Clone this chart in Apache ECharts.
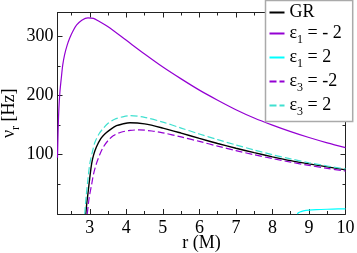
<!DOCTYPE html>
<html>
<head>
<meta charset="utf-8">
<script src="https://cdn.jsdelivr.net/npm/echarts@6/dist/echarts.min.js"></script>
<style>html,body{margin:0;padding:0;background:#fff;}#c{width:357px;height:253px;}</style>
</head>
<body>
<div id="c"></div>
<script>
// ---- data ----
const xTicks = [3, 4, 5, 6, 7, 8, 9, 10];
const xMinor = [2.5, 3.5, 4.5, 5.5, 6.5, 7.5, 8.5, 9.5];
const yTicks = [100, 200, 300];
const yMinor = [50, 150, 250];

const rGR = [2.89, 2.92, 2.95, 3.0, 3.05, 3.1, 3.18, 3.3, 3.41, 3.55, 3.73, 3.9, 4.1, 4.5, 5.0, 5.5, 6.0, 6.5, 7.0, 7.5, 8.0, 8.5, 9.0, 9.5, 10];
const vGR = [0, 20, 35, 62, 85, 99, 113, 127, 135, 142, 149, 152, 154, 152, 145, 136.5, 127.5, 119, 111, 103.5, 96.5, 90, 84.5, 79.5, 74.5];

const rE1m = [2.115, 2.13, 2.15, 2.18, 2.22, 2.26, 2.31, 2.38, 2.45, 2.55, 2.64, 2.78, 2.95, 3.1, 3.23, 3.5, 4.0, 4.5, 5.0, 5.5, 6.0, 6.5, 7.0, 7.5, 8.0, 8.5, 9.0, 9.5, 10];
const vE1m = [95, 135, 174, 205, 230, 252, 269, 285, 297, 310, 319, 327, 331, 330, 326, 316, 293, 270, 248, 228, 209, 192, 176, 162, 150, 139, 129, 120, 112];

const rE1p = [8.68, 8.72, 8.78, 8.85, 9.0, 9.2, 9.5, 9.8, 10];
const vE1p = [0, 2.5, 4, 5.3, 6.5, 7.3, 8, 8.5, 8.8];

const rE3m = [2.93, 2.97, 3.0, 3.05, 3.1, 3.18, 3.27, 3.36, 3.5, 3.64, 3.85, 4.1, 4.35, 4.7, 5.0, 5.5, 6.0, 6.5, 7.0, 7.5, 8.0, 8.5, 9.0, 9.5, 10];
const vE3m = [0, 22, 34, 50, 67, 85, 100, 112, 124, 132, 138, 141, 142, 140, 137, 130, 122.5, 114.5, 107, 100, 93.5, 87.5, 82, 77, 72.5];

const rE3p = [2.86, 2.9, 2.95, 3.0, 3.07, 3.14, 3.25, 3.36, 3.5, 3.68, 3.9, 4.1, 4.5, 5.0, 5.5, 6.0, 6.5, 7.0, 7.5, 8.0, 8.5, 9.0, 9.5, 10];
const vE3p = [0, 30, 60, 85, 105, 121, 135, 144, 153, 160, 164, 166, 163, 155, 145, 135, 125.5, 116.5, 108, 100, 93, 86.5, 81, 76];

const names = ['GR', 'ε1 = - 2', 'ε1 = 2', 'ε3 = -2', 'ε3 = 2'];
const legendRich = {
  'GR': '{t|GR}',
  'ε1 = - 2': '{t|ε}{s|1}{t| = - 2}',
  'ε1 = 2': '{t|ε}{s|1}{t| = 2}',
  'ε3 = -2': '{t|ε}{s|3}{t| = -2}',
  'ε3 = 2': '{t|ε}{s|3}{t| = 2}'
};

const FONT = 'Liberation Serif';
const pairs = (r, v) => r.map((x, i) => [x, v[i]]);
const XMIN = 2.115, XMAX = 10, YMIN = 0, YMAX = 340;

function xAx(pos, vals, len, showLine, labels) {
  return {
    type: 'value', position: pos, min: XMIN, max: XMAX,
    axisLine: { show: showLine, onZero: false, lineStyle: { color: '#222', width: 1 } },
    axisTick: { show: true, inside: true, length: len, customValues: vals, lineStyle: { color: '#222', width: 1 } },
    axisLabel: labels ? { show: true, customValues: vals, margin: 5, color: '#000', fontFamily: FONT, fontSize: 18 } : { show: false },
    splitLine: { show: false }
  };
}
function yAx(pos, vals, len, showLine, labels) {
  return {
    type: 'value', position: pos, min: YMIN, max: YMAX,
    axisLine: { show: showLine, onZero: false, lineStyle: { color: '#222', width: 1 } },
    axisTick: { show: true, inside: true, length: len, customValues: vals, lineStyle: { color: '#222', width: 1 } },
    axisLabel: labels ? { show: true, customValues: vals, margin: 4, color: '#000', fontFamily: FONT, fontSize: 18 } : { show: false },
    splitLine: { show: false }
  };
}

const xAxes = [
  xAx('bottom', xTicks, 5, true, true),
  xAx('bottom', xMinor, 3, false, false),
  xAx('top', xTicks, 5, true, false),
  xAx('top', xMinor, 3, false, false)
];
Object.assign(xAxes[0], {
  name: 'r (M)', nameLocation: 'middle', nameGap: 20, nameMoveOverlap: false,
  nameTextStyle: { fontFamily: FONT, fontSize: 18, color: '#000' }
});
const yAxes = [
  yAx('left', yTicks, 5, true, true),
  yAx('left', yMinor, 3, false, false),
  yAx('right', yTicks, 5, true, false),
  yAx('right', yMinor, 3, false, false)
];
Object.assign(yAxes[0], {
  name: '{n|ν}{s|r}{n| [Hz]}', nameLocation: 'middle', nameGap: 36, nameRotate: 90, nameMoveOverlap: false,
  nameTextStyle: {
    fontFamily: FONT, fontSize: 18, color: '#000',
    rich: {
      n: { fontFamily: FONT, fontSize: 18, color: '#000' },
      s: { fontFamily: FONT, fontSize: 12, color: '#000', padding: [12, 0, 0, 0] }
    }
  }
});

const colors = ['#000000', '#9400d3', '#00ffff', '#9400d3', '#40e0d0'];
const dataSets = [pairs(rGR, vGR), pairs(rE1m, vE1m), pairs(rE1p, vE1p), pairs(rE3m, vE3m), pairs(rE3p, vE3p)];
const dashed = [false, false, false, true, true];

const series = names.map((n, i) => ({
  name: n, type: 'line', data: dataSets[i], xAxisIndex: 0, yAxisIndex: 0,
  showSymbol: false, symbol: 'none', smooth: 0.3,
  lineStyle: { color: colors[i], width: i === 0 ? 1.4 : 1.2, type: dashed[i] ? [7, 3] : 'solid' },
  itemStyle: { color: colors[i] },
  animation: false, clip: true
}));

const chart = echarts.init(document.getElementById('c'), null, { renderer: 'canvas' });
chart.setOption({
  animation: false,
  backgroundColor: '#fff',
  grid: { left: 57.5, right: 11.5, top: 12.5, bottom: 39, containLabel: false, outerBoundsMode: 'none' },
  xAxis: xAxes,
  yAxis: yAxes,
  legend: {
    orient: 'vertical', left: 265.5, top: 0.5,
    backgroundColor: '#fff', borderColor: '#aaa', borderWidth: 1.5,
    padding: [3, 11, 4, 3], itemGap: 3, itemWidth: 15, itemHeight: 10,
    itemStyle: { opacity: 0, color: 'rgba(0,0,0,0)', borderWidth: 0 },
    data: names,
    formatter: n => legendRich[n],
    textStyle: {
      fontFamily: FONT, fontSize: 18, color: '#000',
      rich: {
        t: { fontFamily: FONT, fontSize: 18, color: '#000' },
        s: { fontFamily: FONT, fontSize: 12, color: '#000', padding: [12, 0, 0, 0] }
      }
    }
  },
  series: series
});
</script>
</body>
</html>
